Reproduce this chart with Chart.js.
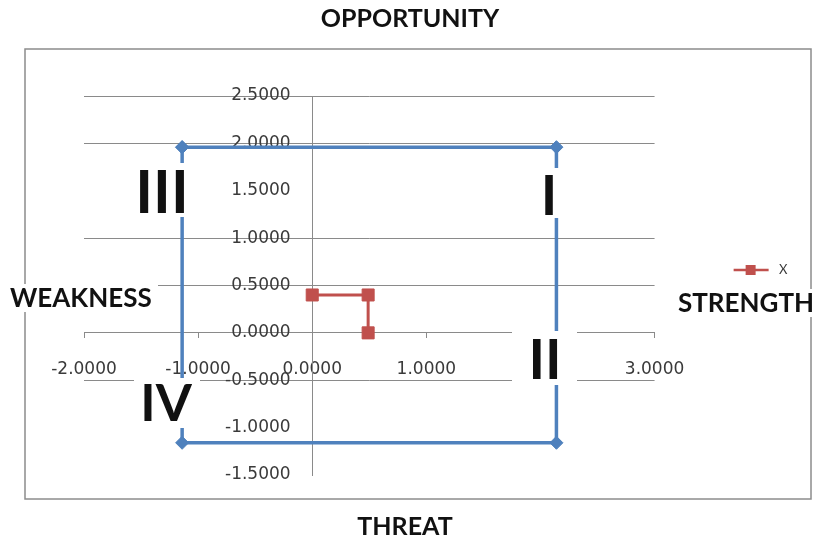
<!DOCTYPE html>
<html>
<head>
<meta charset="utf-8">
<script src="https://cdn.jsdelivr.net/npm/chart.js@4.4.1/dist/chart.umd.min.js"></script>
<style>
  html, body { margin: 0; padding: 0; background: #ffffff; }
  #wrap { width: 817px; height: 542px; }
</style>
</head>
<body>
<div id="wrap"><canvas id="c" width="817" height="542"></canvas></div>
<script>
// ---- data ----
const seriesNames = ['X', 'Y'];
const xSeriesX = [0, 0.49, 0.49];
const xSeriesY = [0.4, 0.4, 0];
const quadX = [-1.14, 2.14, 2.14, -1.14, -1.14];
const quadY = [1.96, 1.96, -1.16, -1.16, 1.96];
const xTickMin = -2, xTickMax = 3, xTickStep = 1;
const yTickMin = -1.5, yTickMax = 2.5, yTickStep = 0.5;
const hiddenGridValues = [1.5, -1, -1.5];
const sideLabels = { top: 'OPPORTUNITY', bottom: 'THREAT', left: 'WEAKNESS', right: 'STRENGTH' };
const quadrantLabels = ['I', 'II', 'III', 'IV'];

const RED = '#C0504D', BLUE = '#4F81BD', GRID = '#8a8a8a', TXT = '#3a3a3a';

function toPoints(xs, ys) { return xs.map((x, i) => ({ x: x, y: ys[i] })); }

function legendSymbol(color, shape) {
  const c = document.createElement('canvas');
  c.width = 100; c.height = 14;
  const g = c.getContext('2d');
  g.strokeStyle = color; g.lineWidth = 2.5;
  g.beginPath(); g.moveTo(61, 7); g.lineTo(96, 7); g.stroke();
  g.fillStyle = color;
  if (shape === 'rect') { g.fillRect(73, 2, 10, 10); }
  else { g.beginPath(); g.moveTo(78, 1); g.lineTo(84, 7); g.lineTo(78, 13); g.lineTo(72, 7); g.closePath(); g.fill(); }
  return c;
}
const legendImgs = [legendSymbol(RED, 'rect'), legendSymbol(BLUE, 'diamond')];

const annotate = {
  id: 'annotate',
  beforeDraw(chart) {
    const ctx = chart.ctx;
    ctx.save();
    ctx.fillStyle = '#ffffff';
    ctx.fillRect(0, 0, chart.width, chart.height);
    ctx.strokeStyle = '#8c8c8c'; ctx.lineWidth = 1.5;
    ctx.strokeRect(25, 49, 786, 450);
    ctx.restore();
  },
  afterDraw(chart) {
    const ctx = chart.ctx;
    ctx.save();
    function boxText(text, bx, by, bw, bh, tx, ty, font, align) {
      ctx.fillStyle = '#ffffff';
      ctx.fillRect(bx, by, bw, bh);
      ctx.fillStyle = '#111111';
      ctx.font = font;
      ctx.textAlign = align || 'center';
      ctx.textBaseline = 'middle';
      ctx.fillText(text, tx, ty);
    }
    const big = 'bold 25px Lato';
    boxText(sideLabels.top, 0, 0, 0, 0, 410, 19, big);
    boxText(sideLabels.bottom, 0, 0, 0, 0, 405, 527, big);
    boxText(sideLabels.left, 6, 284, 152, 28, 10, 299, 'bold 26px Lato', 'left');
    boxText(sideLabels.right, 672, 289, 145, 28, 746, 304, 'bold 26px Lato');
    const rom = 'bold 60px Lato';
    boxText(quadrantLabels[2], 130, 163, 66, 54, 162, 194, rom);
    boxText(quadrantLabels[0], 533, 168, 32, 50, 549, 197, 'bold 56px Lato');
    boxText(quadrantLabels[1], 512, 331, 65, 54, 545, 361, 'bold 56px Lato');
    boxText(quadrantLabels[3], 134, 378, 66, 50, 166, 404, 'bold 52px Lato');
    ctx.restore();
  }
};

new Chart(document.getElementById('c'), {
  type: 'scatter',
  data: {
    datasets: [
      {
        label: seriesNames[0],
        data: toPoints(xSeriesX, xSeriesY),
        showLine: true,
        borderColor: RED, backgroundColor: RED,
        borderWidth: 3,
        pointStyle: 'rect', pointRadius: 8.5, pointBorderWidth: 1,
        pointBackgroundColor: RED, pointBorderColor: RED,
        tension: 0
      },
      {
        label: seriesNames[1],
        data: toPoints(quadX, quadY),
        showLine: true,
        borderColor: BLUE, backgroundColor: BLUE,
        borderWidth: 3.5,
        pointStyle: 'rectRot', pointRadius: 6.5, pointBorderWidth: 1,
        pointBackgroundColor: BLUE, pointBorderColor: BLUE,
        tension: 0
      }
    ]
  },
  options: {
    responsive: false,
    animation: false,
    devicePixelRatio: 1,
    layout: { padding: { left: 84, top: 96, bottom: 67, right: 19.5 } },
    plugins: {
      tooltip: { enabled: false },
      title: { display: false },
      legend: {
        display: true,
        position: 'right',
        align: 'center',
        labels: {
          font: { family: 'Lato', size: 13 },
          color: TXT,
          padding: 18,
          usePointStyle: true,
          pointStyleWidth: 100,
          generateLabels(chart) {
            return chart.data.datasets.map((ds, i) => ({
              text: ds.label,
              pointStyle: legendImgs[i],
              fillStyle: ds.borderColor,
              strokeStyle: ds.borderColor,
              lineWidth: 0,
              hidden: false,
              datasetIndex: i,
              fontColor: TXT
            }));
          }
        }
      }
    },
    scales: {
      x: {
        type: 'linear',
        position: { y: 0 },
        min: xTickMin, max: xTickMax,
        ticks: {
          stepSize: xTickStep,
          callback: v => Number(v).toFixed(4),
          font: { family: 'DejaVu Sans', size: 17 },
          color: TXT,
          padding: 22,
          maxRotation: 0,
          autoSkip: false
        },
        grid: { display: true, drawOnChartArea: false, drawTicks: true, tickLength: 5, tickColor: GRID },
        border: { display: true, color: GRID, width: 1 }
      },
      y: {
        type: 'linear',
        position: { x: 0 },
        min: yTickMin, max: yTickMax,
        ticks: {
          stepSize: yTickStep,
          callback: v => Number(v).toFixed(4) + '    ',
          font: { family: 'DejaVu Sans', size: 17 },
          color: TXT,
          autoSkip: false
        },
        grid: {
          drawTicks: false,
          color: c => (c.tick && hiddenGridValues.some(h => Math.abs(h - c.tick.value) < 1e-9)) ? 'rgba(0,0,0,0)' : GRID,
          lineWidth: 1
        },
        border: { display: true, color: GRID, width: 1 }
      }
    }
  },
  plugins: [annotate]
});
</script>
</body>
</html>
